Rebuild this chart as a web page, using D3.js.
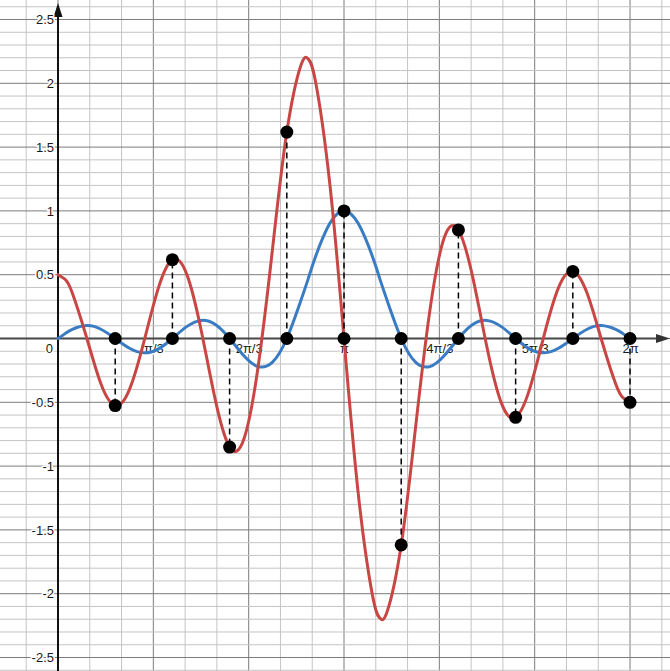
<!DOCTYPE html>
<html>
<head>
<meta charset="utf-8">
<script src="https://cdn.jsdelivr.net/npm/d3@7"></script>
<style>
  html, body { margin: 0; padding: 0; background: #fff; }
  svg { display: block; }
  text { font-family: "Liberation Sans", Arial, Helvetica, sans-serif; font-size: 13px; }
</style>
</head>
<body>
<svg id="chart" width="670" height="671"></svg>
<script>
// Curve abscissae, in units of π/20 (extra half steps near both ends and at the main peaks)
const xSteps = [0, 0.5, 1, 2, 3, 4, 5, 6, 7, 8, 9, 10, 11, 12, 13, 14, 15, 16, 17, 17.5, 18, 19, 20,
  21, 22, 22.5, 23, 24, 25, 26, 27, 28, 29, 30, 31, 32, 33, 34, 35, 36, 37, 38, 39, 39.5, 40];

// Blue curve: interpolation kernel centred on π
const blueValues = [0, 0.0383, 0.0709, 0.1012, 0.0727, 0, -0.0765, -0.1122, -0.0829, 0, 0.0930,
  0.1414, 0.1089, 0, -0.1353, -0.2203, -0.1848, 0, 0.3029, 0.4690, 0.6393, 0.9012, 1,
  0.9012, 0.6393, 0.4690, 0.3029, 0, -0.1848, -0.2203, -0.1353, 0, 0.1089, 0.1414, 0.0930, 0,
  -0.0829, -0.1122, -0.0765, 0, 0.0727, 0.1012, 0.0709, 0.0383, 0];

// Red curve: its derivative
const redValues = [0.5, 0.4631, 0.3574, 0.0080, -0.3549, -0.5257, -0.3985, -0.0286, 0.3893, 0.6180,
  0.5047, 0.0707, -0.4807, -0.8507, -0.7871, -0.2162, 0.7008, 1.6180, 2.1453, 2.19, 2.0181, 1.2194, 0,
  -1.2194, -2.0181, -2.19, -2.1453, -1.6180, -0.7008, 0.2162, 0.7871, 0.8507, 0.4807, -0.0707, -0.5047,
  -0.6180, -0.3893, 0.0286, 0.3985, 0.5257, 0.3549, -0.0080, -0.3574, -0.4631, -0.5];

// Sample points at kπ/5 (positions in units of π/20) and their sampled values
const sampleSteps = [4, 8, 12, 16, 20, 24, 28, 32, 36, 40];
const sampleValues = [-0.526, 0.618, -0.851, 1.618, 1, -1.618, 0.851, -0.618, 0.526, -0.5];

// Axis ticks
const xTickThirds = [1, 2, 3, 4, 5, 6];               // multiples of π/3
const xTickLabels = ["π/3", "2π/3", "π", "4π/3", "5π/3", "2π"];
const yTickValues = [-2.5, -2, -1.5, -1, -0.5, 0.5, 1, 1.5, 2, 2.5];
const yTickLabels = ["-2.5", "-2", "-1.5", "-1", "-0.5", "0.5", "1", "1.5", "2", "2.5"];

const W = 670, H = 671, PI = Math.PI;
const svg = d3.select("#chart");

const x = d3.scaleLinear().domain([-0.6371, 6.7223]).range([0, W]);
const y = d3.scaleLinear().domain([2.6528, -2.6058]).range([0, H]);

const stepX = s => x(s * PI / 20);

// ---- grid ----
const grid = svg.append("g");
const vLines = d3.range(-1, 20);          // every π/9
grid.selectAll("line.v").data(vLines).join("line")
  .attr("x1", k => x(k * PI / 9)).attr("x2", k => x(k * PI / 9))
  .attr("y1", 0).attr("y2", H)
  .attr("stroke", k => k % 3 === 0 ? "#7c7c7c" : "#c4c4c4")
  .attr("stroke-width", 1);
const hLines = d3.range(-26, 27);         // every 0.1
grid.selectAll("line.h").data(hLines).join("line")
  .attr("x1", 0).attr("x2", W)
  .attr("y1", k => y(k / 10)).attr("y2", k => y(k / 10))
  .attr("stroke", k => k % 5 === 0 ? "#7c7c7c" : "#c4c4c4")
  .attr("stroke-width", 1);

// ---- axes with arrow heads ----
const axes = svg.append("g");
axes.append("line").attr("x1", 0).attr("x2", W - 10).attr("y1", y(0)).attr("y2", y(0))
  .attr("stroke", "#474747").attr("stroke-width", 2);
axes.append("line").attr("x1", x(0)).attr("x2", x(0)).attr("y1", H).attr("y2", 12)
  .attr("stroke", "#111").attr("stroke-width", 2);
axes.append("path")
  .attr("d", `M${x(0)},3 L${x(0) - 4.5},17 L${x(0) + 4.5},17 Z`).attr("fill", "#111");
axes.append("path")
  .attr("d", `M${W},${y(0)} L${W - 14},${y(0) - 4.5} L${W - 14},${y(0) + 4.5} Z`).attr("fill", "#333");

// ---- tick labels ----
const halo = sel => sel.selectAll("text")
  .attr("fill", "#1a1a1a")
  .attr("stroke", "#fff").attr("stroke-width", 3)
  .attr("paint-order", "stroke").attr("stroke-linejoin", "round")
  .style("font-family", "'Liberation Sans', Arial, sans-serif").style("font-size", "13px");

const yAxis = d3.axisLeft(y).tickValues(yTickValues)
  .tickFormat((d, i) => yTickLabels[i]).tickSize(0).tickPadding(4);
svg.append("g").attr("transform", `translate(${x(0)},0)`).call(yAxis)
  .call(g => g.select(".domain").remove()).call(halo);

const xAxis = d3.axisBottom(x).tickValues(xTickThirds.map(t => t * PI / 3))
  .tickFormat((d, i) => xTickLabels[i]).tickSize(0).tickPadding(5);
svg.append("g").attr("transform", `translate(0,${y(0)})`).call(xAxis)
  .call(g => g.select(".domain").remove()).call(halo);

const origin = svg.append("g");
origin.append("text").text("0")
  .attr("x", x(0) - 5).attr("y", y(0) + 15).attr("text-anchor", "end");
halo(origin);

// ---- curves ----
const line = d3.line().x((d, i) => stepX(xSteps[i])).y(d => y(d)).curve(d3.curveNatural);
svg.append("path").datum(blueValues).attr("d", line)
  .attr("fill", "none").attr("stroke", "#3a7cc3").attr("stroke-width", 3)
  .attr("stroke-linejoin", "round").attr("stroke-linecap", "round");
svg.append("path").datum(redValues).attr("d", line)
  .attr("fill", "none").attr("stroke", "#c84744").attr("stroke-width", 3)
  .attr("stroke-linejoin", "round").attr("stroke-linecap", "round");

// ---- samples: dashed stems and dots ----
const samples = sampleSteps.map((s, i) => ({ s, v: sampleValues[i] }));
svg.append("g").selectAll("line").data(samples).join("line")
  .attr("x1", d => stepX(d.s)).attr("x2", d => stepX(d.s))
  .attr("y1", y(0)).attr("y2", d => y(d.v))
  .attr("stroke", "#000").attr("stroke-width", 1.5).attr("stroke-dasharray", "6,4");
const dots = svg.append("g");
dots.selectAll("circle.base").data(samples).join("circle")
  .attr("cx", d => stepX(d.s)).attr("cy", y(0)).attr("r", 6.5).attr("fill", "#000");
dots.selectAll("circle.val").data(samples).join("circle")
  .attr("cx", d => stepX(d.s)).attr("cy", d => y(d.v)).attr("r", 6.5).attr("fill", "#000");
</script>
</body>
</html>
